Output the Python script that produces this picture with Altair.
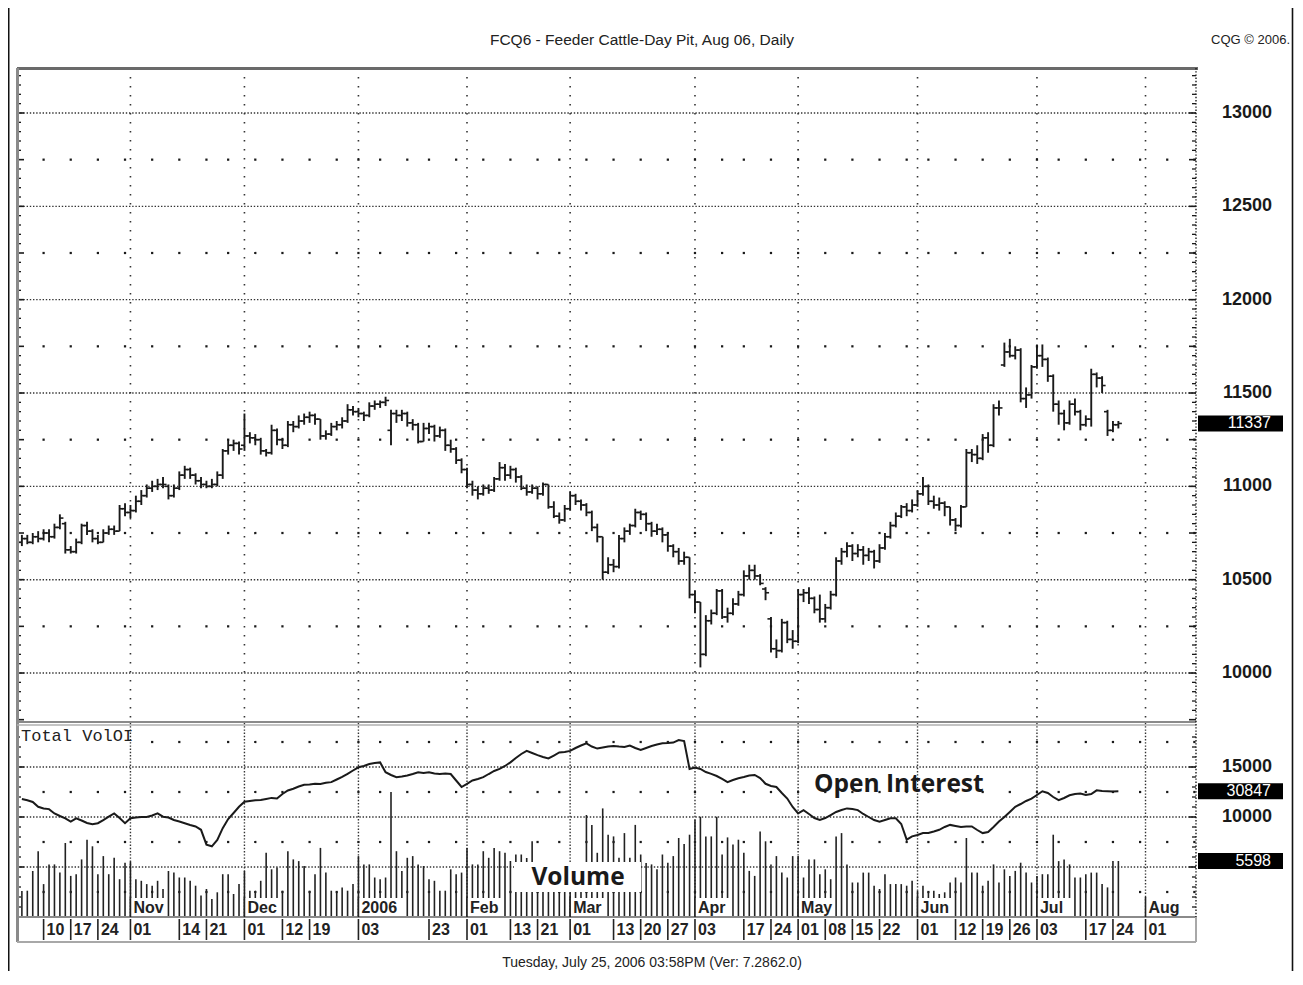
import altair as alt
import pandas as pd

# ---------------- layout constants (plot area = both panels) ----------------
W, H = 1179, 849          # plot area (price panel + volume panel)
SEP = 655                 # y (px) of the panel separator
ROW_BOTTOM = 874          # bottom of the date-label row

XDOM = [-0.9, 216.3]      # trading-day index
PDOM = [8693, 13241]      # price scale (upper panel)
VDOM = [0, 84900]         # volume scale (lower panel)
ODOM = [0, 208345]        # open-interest scale (lower panel)
PX_PER_DAY = W / (XDOM[1] - XDOM[0])

# ---------------- calendar ----------------
holidays = ["2005-11-24", "2005-12-26", "2006-01-02", "2006-01-16",
            "2006-02-20", "2006-04-14", "2006-05-29", "2006-07-04"]
trading_days = [d for d in pd.bdate_range("2005-10-04", "2006-08-31")
                if d.strftime("%Y-%m-%d") not in holidays]
day_index = {d.strftime("%Y-%m-%d"): i for i, d in enumerate(trading_days)}

# ---------------- data ----------------
opens = [10700,10720,10700,10730,10720,10750,10730,10780,10800,10660,
         10650,10700,10790,10760,10720,10700,10750,10770,10760,10880,
         10860,10870,10920,10950,10990,11000,11010,11000,10950,10990,
         11060,11090,11060,11030,11010,11000,11010,11060,11190,11220,
         11230,11220,11270,11260,11250,11190,11180,11300,11250,11220,
         11330,11320,11350,11370,11380,11360,11270,11280,11320,11330,
         11350,11410,11400,11390,11380,11430,11440,11450,11300,11390,
         11380,11390,11340,11330,11240,11310,11320,11270,11300,11220,
         11200,11140,11090,11010,10980,10960,10990,10980,11040,11100,
         11060,11090,11050,10990,10970,10990,10960,11010,10890,10840,
         10820,10880,10950,10920,10900,10860,10780,10730,10540,10580,
         10570,10720,10760,10790,10860,10850,10800,10760,10770,10740,
         10680,10650,10600,10620,10420,10380,10100,10280,10320,10440,
         10300,10320,10370,10420,10520,10550,10520,10450,10290,10130,
         10120,10270,10180,10170,10420,10430,10400,10340,10290,10350,
         10420,10600,10650,10680,10640,10660,10630,10650,10600,10670,
         10730,10790,10840,10890,10870,10900,10960,11000,10920,10900,
         10910,10890,10820,10790,10890,11180,11170,11150,11260,11220,
         11420,11650,11720,11700,11730,11470,11490,11640,11700,11680,
         11590,11440,11390,11340,11440,11400,11330,11360,11600,11580,
         11400,11300,11330]
highs = [10740,10740,10750,10760,10770,10770,10800,10850,10810,10680,
         10720,10800,10810,10770,10740,10770,10790,10790,10900,10910,
         10900,10950,10980,11010,11030,11040,11050,11010,11010,11080,
         11110,11100,11070,11050,11030,11040,11080,11200,11250,11250,
         11240,11390,11290,11280,11260,11200,11330,11310,11260,11350,
         11350,11380,11390,11400,11390,11360,11300,11340,11350,11370,
         11440,11430,11420,11400,11450,11460,11460,11480,11410,11410,
         11410,11400,11360,11340,11340,11340,11330,11320,11310,11250,
         11210,11150,11100,11030,11000,11010,11010,11050,11130,11120,
         11110,11100,11060,11010,11010,11000,11020,11010,10920,10860,
         10900,10970,10960,10930,10910,10870,10800,10730,10620,10610,
         10740,10780,10800,10880,10870,10860,10810,10800,10780,10750,
         10690,10670,10650,10620,10440,10380,10310,10340,10450,10450,
         10350,10400,10440,10550,10580,10580,10530,10460,10300,10180,
         10290,10280,10230,10450,10450,10460,10410,10420,10370,10440,
         10620,10670,10700,10690,10690,10680,10670,10660,10690,10750,
         10810,10860,10900,10910,10930,10980,11050,11010,10950,10940,
         10920,10890,10830,10900,11200,11200,11220,11280,11290,11440,
         11460,11770,11790,11750,11740,11530,11650,11760,11760,11690,
         11600,11460,11410,11460,11470,11410,11380,11630,11610,11590,
         11410,11350,11350]
lows = [10680,10690,10690,10700,10710,10700,10720,10770,10640,10640,
        10640,10690,10740,10700,10690,10700,10740,10740,10760,10840,
        10830,10860,10900,10940,10970,10980,10990,10930,10940,10980,
        11040,11040,11010,10990,10990,10990,11000,11040,11170,11190,
        11170,11190,11230,11220,11170,11160,11170,11220,11200,11210,
        11290,11310,11330,11340,11330,11250,11250,11270,11300,11310,
        11340,11380,11370,11350,11370,11410,11420,11430,11220,11340,
        11350,11320,11300,11230,11240,11280,11240,11260,11190,11180,
        11120,11070,10990,10950,10930,10950,10960,10970,11030,11030,
        11040,11020,10980,10950,10960,10930,10950,10880,10830,10800,
        10810,10870,10900,10870,10840,10760,10700,10500,10530,10540,
        10560,10700,10740,10780,10820,10760,10730,10740,10700,10650,
        10620,10580,10580,10400,10320,10030,10090,10260,10310,10290,
        10270,10310,10360,10410,10500,10500,10470,10390,10110,10080,
        10110,10160,10130,10160,10380,10370,10320,10270,10270,10340,
        10410,10580,10620,10600,10620,10580,10600,10560,10590,10660,
        10720,10780,10830,10840,10860,10890,10950,10900,10880,10870,
        10840,10790,10760,10780,10890,11130,11120,11140,11180,11210,
        11380,11640,11690,11680,11450,11420,11470,11630,11640,11560,
        11400,11330,11300,11330,11380,11300,11320,11320,11530,11500,
        11270,11290,11310]
closes = [10720,10700,10730,10720,10750,10730,10780,10830,10660,10650,
          10700,10790,10760,10720,10700,10750,10770,10760,10880,10860,
          10870,10920,10950,10990,11000,11010,11010,10950,10990,11060,
          11090,11060,11030,11010,11000,11010,11060,11190,11220,11230,
          11200,11270,11260,11250,11190,11180,11300,11250,11220,11330,
          11320,11350,11370,11380,11360,11270,11280,11320,11330,11350,
          11410,11400,11390,11380,11430,11440,11450,11460,11390,11380,
          11390,11340,11330,11240,11310,11320,11270,11300,11220,11200,
          11140,11090,11010,10980,10960,10990,10980,11040,11100,11060,
          11090,11050,10990,10970,10990,10960,11010,10890,10840,10820,
          10880,10950,10920,10900,10860,10780,10730,10540,10580,10570,
          10720,10760,10790,10860,10850,10800,10760,10770,10740,10680,
          10650,10600,10620,10420,10380,10100,10280,10320,10440,10300,
          10320,10370,10420,10520,10550,10520,10480,10430,10130,10120,
          10270,10180,10170,10420,10430,10400,10340,10290,10350,10420,
          10600,10650,10680,10640,10660,10630,10650,10600,10670,10730,
          10790,10840,10890,10870,10900,10960,11000,10920,10900,10910,
          10890,10820,10790,10890,11180,11170,11150,11260,11220,11420,
          11420,11720,11700,11730,11470,11490,11640,11700,11680,11590,
          11440,11390,11340,11440,11400,11330,11360,11600,11580,11540,
          11300,11330,11337]
volume = [2600,2630,4600,6580,3290,5260,5260,4440,7400,4110,
          4280,5760,7730,7070,4280,6090,4280,5920,3780,5430,
          5530,3780,3620,3290,3130,3620,2800,4600,4440,3950,
          3950,3620,3130,2140,2800,1810,2470,4280,4280,2300,
          3290,4600,2630,2630,3620,6420,4770,4940,2630,6580,
          5760,5590,5100,2630,4280,6910,4440,2630,2470,2960,
          2630,3290,6090,5260,5260,3950,3780,3950,12500,6580,
          4600,5920,6090,5260,5100,3780,3620,2630,2630,4770,
          4280,4440,6910,5260,5260,6580,5920,6910,6580,6420,
          5600,6250,6250,5900,7570,4500,4800,4200,5000,4600,
          4400,4900,5300,4800,10200,9210,6420,10860,8230,8060,
          5920,8390,5920,9210,6250,5400,5260,4770,6250,5430,
          6090,7900,7300,8230,9700,10030,8060,8060,10030,6250,
          7960,7240,7730,6420,4610,4110,8550,7570,5260,6090,
          4440,3950,6090,6090,3950,5760,5760,4280,4770,3780,
          8060,8390,5260,3450,3450,4440,4440,3130,2800,4280,
          3290,3290,3290,3130,3620,2630,3130,2470,2630,2300,
          2470,3450,3950,3450,7900,4440,4440,3130,3620,5260,
          3450,4770,4110,4610,5430,4440,3450,4110,4280,4280,
          8230,5590,5760,5260,3950,3950,4280,4440,4440,3290,
          2960,5590,5598]
open_interest = [28960,28660,28220,27040,26630,26480,25420,24790,24220,23410,
                 24220,23680,23070,22770,23020,23800,24610,25420,24290,23020,
                 24220,24420,24540,24540,24910,25420,24610,24420,23800,23440,
                 23020,22580,22210,21400,17770,17350,18900,21790,24050,25520,
                 27040,28270,28470,28660,28710,28960,29230,29080,30180,31040,
                 31480,32020,32470,32520,32690,32640,32930,33100,33740,34360,
                 35120,35950,36740,37060,37550,37790,37940,35530,34850,34310,
                 34480,34720,35090,35530,35340,35530,35210,35090,35210,35090,
                 33500,31900,32690,33500,33870,34310,35090,35830,36340,37060,
                 37940,39020,40000,40760,40250,39730,39260,38920,39630,40370,
                 40490,40760,41470,42090,42630,41840,41330,41600,41840,41990,
                 41840,41720,42090,41470,41010,41470,41960,42330,42630,42700,
                 42800,43440,43190,36340,36690,36340,35580,35120,34600,33870,
                 33100,33620,34060,34360,34720,34850,34110,32690,32150,31900,
                 30430,29060,26990,25420,26230,25280,24290,23830,24290,25030,
                 25770,26260,26650,26500,26230,25280,24540,23800,23410,23800,
                 24220,24220,22820,18970,19780,20120,20590,20610,20980,21400,
                 22090,22600,22330,22090,22210,22210,21350,20590,20860,22090,
                 23410,24540,25770,27040,27730,28470,29060,29940,30850,30430,
                 29450,28660,29200,29870,30180,30280,29940,30180,31090,30920,
                 30850,30800,30847]

price_grid = [10000, 10500, 11000, 11500, 12000, 12500, 13000]
price_dot_rows = [10250, 10750, 11250, 11750, 12250, 12750]
vol_grid = [5000, 10000, 15000]
vol_dot_rows = [2500, 7500, 12500, 17500]
price_labels = [10000, 10500, 11000, 11500, 12000, 12500, 13000]
vol_labels = [10000, 15000]

month_dates = ["2005-11-01", "2005-12-01", "2006-01-03", "2006-02-01", "2006-03-01",
               "2006-04-03", "2006-05-01", "2006-06-01", "2006-07-03", "2006-08-01"]
month_text = ["Nov", "Dec", "2006", "Feb", "Mar", "Apr", "May", "Jun", "Jul", "Aug"]
day_dates = ["2005-10-10", "2005-10-17", "2005-10-24", "2005-11-01", "2005-11-14",
             "2005-11-21", "2005-12-01", "2005-12-12", "2005-12-19", "2006-01-03",
             "2006-01-23", "2006-02-01", "2006-02-13", "2006-02-21", "2006-03-01",
             "2006-03-13", "2006-03-20", "2006-03-27", "2006-04-03", "2006-04-17",
             "2006-04-24", "2006-05-01", "2006-05-08", "2006-05-15", "2006-05-22",
             "2006-06-01", "2006-06-12", "2006-06-19", "2006-06-26", "2006-07-03",
             "2006-07-17", "2006-07-24", "2006-08-01"]
day_text = ["10", "17", "24", "01", "14", "21", "01", "12", "19", "03", "23", "01",
            "13", "21", "01", "13", "20", "27", "03", "17", "24", "01", "08", "15",
            "22", "01", "12", "19", "26", "03", "17", "24", "01"]

last_price, last_oi, last_vol = 11337, 30847, 5598

# ---------------- tables ----------------
n = len(closes)
bars = pd.DataFrame({"i": list(range(n)), "o": opens, "h": highs, "l": lows,
                     "c": closes, "v": volume, "oi": open_interest})
months = pd.DataFrame({"i": [day_index[d] for d in month_dates], "t": month_text})
# white backing box behind each month name (width in trading days from text length)
months["i2"] = months["i"] + (months["t"].str.len() * 10.5 + 5) / PX_PER_DAY
days_df = pd.DataFrame({"i": [day_index[d] for d in day_dates], "t": day_text})

week_starts, prev = [], None
for i, d in enumerate(trading_days):
    wk = d.isocalendar()[1]
    if wk != prev and i > 0 and i <= 216:
        week_starts.append(i)
    prev = wk
pdots = pd.DataFrame([(i, p) for i in week_starts for p in price_dot_rows], columns=["i", "p"])
vdots = pd.DataFrame([(i, v) for i in week_starts for v in vol_dot_rows], columns=["i", "v"])
pgrid = pd.DataFrame({"p": price_grid})
vgrid = pd.DataFrame({"v": vol_grid})
pticks = pd.DataFrame({"p": list(range(9750, 13201, 50))})
pticks["long"] = pticks["p"] % 250 == 0
vticks = pd.DataFrame({"v": list(range(0, 18001, 1000))})
vticks["long"] = vticks["v"] % 5000 == 0
plab = pd.DataFrame({"p": price_labels, "t": [str(p) for p in price_labels]})
vlab = pd.DataFrame({"v": vol_labels, "t": [str(v) for v in vol_labels]})
one = pd.DataFrame({"a": [0]})

# ---------------- helpers ----------------
def xq(f):
    return alt.X(f, type="quantitative", axis=None,
                 scale=alt.Scale(domain=XDOM, nice=False, zero=False))

def yq(f, dom):
    return alt.Y(f, type="quantitative", axis=None,
                 scale=alt.Scale(domain=dom, nice=False, zero=False))

def vrule(x, y0, y1, **kw):
    return alt.Chart(one).mark_rule(**kw).encode(
        x=alt.value(x), y=alt.value(y0), y2=alt.value(y1))

def hrule(y, x0, x1, **kw):
    return alt.Chart(one).mark_rule(**kw).encode(
        y=alt.value(y), x=alt.value(x0), x2=alt.value(x1))

def box(x0, x1, y0, y1, color="white"):
    return alt.Chart(one).mark_rect(color=color).encode(
        x=alt.value(x0), x2=alt.value(x1), y=alt.value(y0), y2=alt.value(y1))

def label(text, x, y, **kw):
    return alt.Chart(one).mark_text(text=text, **kw).encode(
        x=alt.value(x), y=alt.value(y))

INK = "#1a1a1a"
GRID = "#333333"
FRAME = "#8a8a8a"
SANS = "Liberation Sans"

layers = []

# grid: month lines
layers.append(alt.Chart(months).mark_rule(color=GRID, strokeWidth=1.6, strokeDash=[1.6, 7.4]).encode(
    x=xq("i"), y=alt.value(0), y2=alt.value(SEP)))
layers.append(alt.Chart(months).mark_rule(color=GRID, strokeWidth=1.4, strokeDash=[1.4, 1.8]).encode(
    x=xq("i"), y=alt.value(SEP), y2=alt.value(H)))
# grid: horizontal dotted lines and dot rows
layers.append(alt.Chart(pgrid).mark_rule(color=GRID, strokeWidth=1.4, strokeDash=[1.4, 1.8]).encode(
    y=yq("p", PDOM), x=alt.value(0), x2=alt.value(W)))
layers.append(alt.Chart(pdots).mark_square(size=5, color=INK, opacity=1).encode(
    x=xq("i"), y=yq("p", PDOM)))
layers.append(alt.Chart(vgrid).mark_rule(color=GRID, strokeWidth=1.4, strokeDash=[1.4, 1.8]).encode(
    y=yq("v", VDOM), x=alt.value(0), x2=alt.value(W)))
layers.append(alt.Chart(vdots).mark_square(size=5, color=INK, opacity=1).encode(
    x=xq("i"), y=yq("v", VDOM)))

# edge ticks
for df, f, dom in [(pticks, "p", PDOM), (vticks, "v", VDOM)]:
    short = df[~df["long"]]
    lng = df[df["long"]]
    layers.append(alt.Chart(short).mark_rule(color=INK, strokeWidth=1.3).encode(
        y=yq(f, dom), x=alt.value(0), x2=alt.value(4)))
    layers.append(alt.Chart(lng).mark_rule(color=INK, strokeWidth=1.6).encode(
        y=yq(f, dom), x=alt.value(0), x2=alt.value(7)))
    layers.append(alt.Chart(short).mark_rule(color=INK, strokeWidth=1.3).encode(
        y=yq(f, dom), x=alt.value(W - 4), x2=alt.value(W)))
    layers.append(alt.Chart(lng).mark_rule(color=INK, strokeWidth=1.6).encode(
        y=yq(f, dom), x=alt.value(W - 7), x2=alt.value(W)))

# volume bars
layers.append(alt.Chart(bars).mark_rule(color="#222222", strokeWidth=1.6).encode(
    x=xq("i"), y=yq("v", VDOM), y2=alt.datum(0)))
# open interest line
layers.append(alt.Chart(bars).mark_line(color=INK, strokeWidth=2).encode(
    x=xq("i"), y=yq("oi", ODOM)))

# price OHLC bars
layers.append(alt.Chart(bars).mark_rule(color=INK, strokeWidth=1.9, strokeCap="butt").encode(
    x=xq("i"), y=yq("l", PDOM), y2=alt.Y2("h")))
layers.append(alt.Chart(bars).transform_calculate(xl="datum.i - 0.65").mark_rule(
    color=INK, strokeWidth=1.6, strokeCap="butt").encode(
    x=xq("xl"), x2=alt.X2("i"), y=yq("o", PDOM)))
layers.append(alt.Chart(bars).transform_calculate(xr="datum.i + 0.65").mark_rule(
    color=INK, strokeWidth=1.6, strokeCap="butt").encode(
    x=xq("i"), x2=alt.X2("xr"), y=yq("c", PDOM)))

# panel borders
layers.append(hrule(0.5, 0, W + 2, color="#6a6a6a", strokeWidth=3))
layers.append(vrule(0.5, 0, ROW_BOTTOM, color=FRAME, strokeWidth=3))
layers.append(hrule(SEP - 1, 0, W, color=FRAME, strokeWidth=2))
layers.append(hrule(SEP + 2, 0, W, color="#b0b0b0", strokeWidth=1.5))
layers.append(hrule(H, 0, W, color=FRAME, strokeWidth=2))
layers.append(hrule(ROW_BOTTOM, 0, W, color="#a8a8a8", strokeWidth=2))
layers.append(alt.Chart(one).mark_rule(color=INK, strokeWidth=1.4, strokeDash=[1.4, 1.8]).encode(
    x=alt.value(W), y=alt.value(0), y2=alt.value(H)))
layers.append(vrule(W, H, ROW_BOTTOM, color="#a8a8a8", strokeWidth=2))

# date label row
layers.append(alt.Chart(days_df).mark_rule(color="#222222", strokeWidth=1.6).encode(
    x=xq("i"), y=alt.value(H + 2), y2=alt.value(ROW_BOTTOM - 2)))
layers.append(alt.Chart(days_df).mark_text(
    align="left", baseline="middle", dx=3, font=SANS, fontSize=16, fontWeight="bold",
    color="#222222").encode(x=xq("i"), y=alt.value(H + 12.5), text="t:N"))
# month names with white backing boxes at the bottom of the volume panel
layers.append(alt.Chart(months).mark_rect(color="white").encode(
    x=xq("i"), x2=alt.X2("i2"), y=alt.value(H - 19), y2=alt.value(H - 1)))
layers.append(alt.Chart(months).mark_rule(color="#222222", strokeWidth=1.6).encode(
    x=xq("i"), y=alt.value(H - 20), y2=alt.value(H)))
layers.append(alt.Chart(months).mark_text(
    align="left", baseline="middle", dx=3, font=SANS, fontSize=16, fontWeight="bold",
    color="#222222").encode(x=xq("i"), y=alt.value(H - 9), text="t:N"))

# annotations in the lower panel
layers.append(box(497, 624, 794, 824))
layers.append(label("Volume", 561, 810, font="Open Sans", fontSize=24.5, fontWeight="bold",
                    color="#1a1a1a", align="center", baseline="middle"))
layers.append(label("Open Interest", 797, 717, font="Open Sans", fontSize=24.5, fontWeight="bold",
                    color="#1a1a1a", align="left", baseline="middle"))
layers.append(box(3, 112, 660, 676))
layers.append(label("Total VolOI", 4, 668, font="Liberation Mono", fontSize=17,
                    color="#222222", align="left", baseline="middle"))

# right-hand scale labels
layers.append(alt.Chart(plab).mark_text(
    align="right", baseline="middle", font=SANS, fontSize=18, fontWeight="bold", color=INK).encode(
    y=yq("p", PDOM), x=alt.value(1255), text="t:N"))
layers.append(alt.Chart(vlab).mark_text(
    align="right", baseline="middle", font=SANS, fontSize=18, fontWeight="bold", color=INK).encode(
    y=yq("v", VDOM), x=alt.value(1255), text="t:N"))

# last-value boxes
for val, dom, txt in [(last_price, PDOM, str(last_price)),
                      (last_oi, ODOM, str(last_oi)),
                      (last_vol, VDOM, str(last_vol))]:
    d = pd.DataFrame({"y": [val], "t": [txt]})
    layers.append(alt.Chart(d).mark_rule(color="black", strokeWidth=16, strokeCap="butt").encode(
        y=yq("y", dom), x=alt.value(1181), x2=alt.value(1266)))
    layers.append(alt.Chart(d).mark_text(
        align="right", baseline="middle", font=SANS, fontSize=16, color="white").encode(
        y=yq("y", dom), x=alt.value(1254), text="t:N"))

# header, footer and outer frame
layers.append(label("FCQ6 - Feeder Cattle-Day Pit, Aug 06, Daily", 625, -28, font=SANS,
                    fontSize=15.5, color="#222222", align="center", baseline="middle"))
layers.append(label("CQG \u00a9 2006.", 1273, -28, font=SANS, fontSize=13,
                    color="#222222", align="right", baseline="middle"))
layers.append(label("Tuesday, July 25, 2006  03:58PM (Ver: 7.2862.0)", 635, 895, font=SANS,
                    fontSize=14, color="#222222", align="center", baseline="middle"))
layers.append(vrule(-8.3, -60, 905, color="#111111", strokeWidth=1.6))
layers.append(vrule(1275.5, -60, 905, color="#111111", strokeWidth=1.6))

chart = alt.layer(*layers).resolve_scale(y="independent").properties(
    width=W, height=H,
    autosize=alt.AutoSizeParams(type="none"),
    padding={"left": 9, "top": 60, "right": 98, "bottom": 54},
    background="white",
).configure_view(stroke=None)

chart.save("out.html", embed_options={"renderer": "svg", "actions": False})
